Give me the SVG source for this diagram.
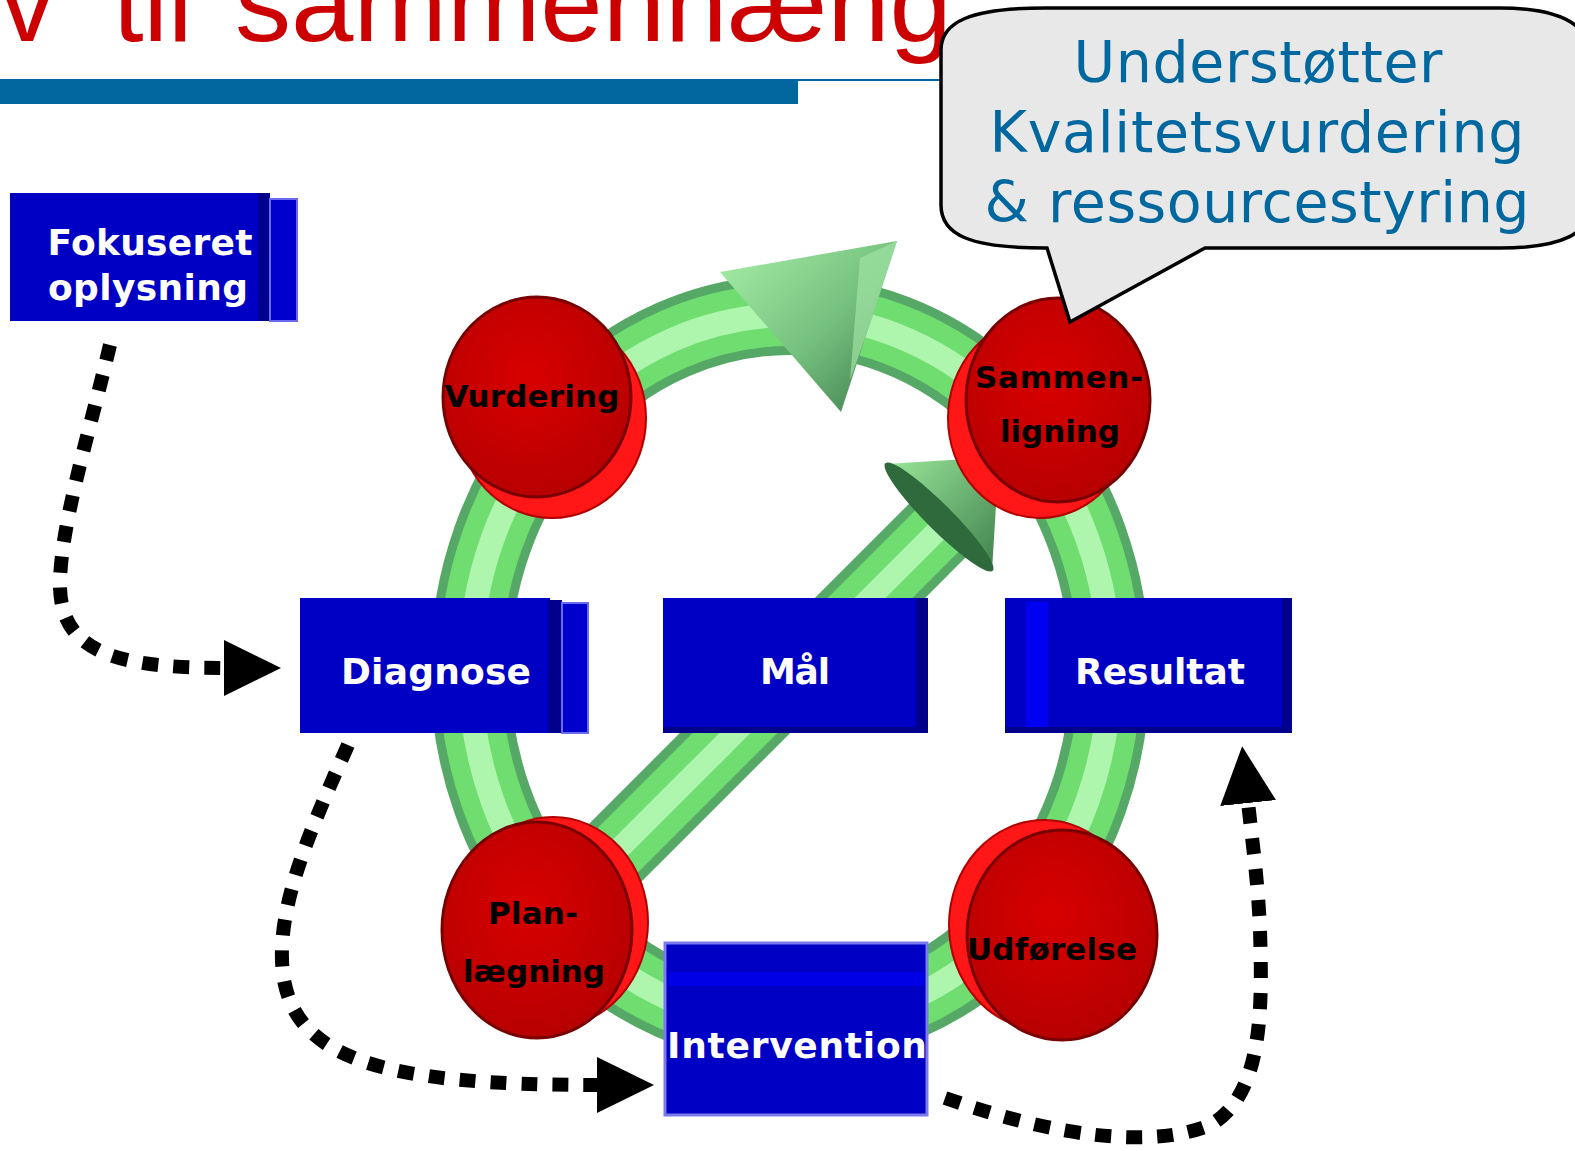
<svg xmlns="http://www.w3.org/2000/svg" width="1575" height="1151" viewBox="0 0 1575 1151">
<style>
.title{font-family:"Liberation Sans",Arial,sans-serif;font-size:110px;fill:#cc0000}
.call{font-family:"DejaVu Sans","Liberation Sans",sans-serif;font-size:57px;fill:#00679f;text-anchor:middle}
.blab{font-family:"DejaVu Sans","Liberation Sans",sans-serif;font-weight:bold;font-size:36px;fill:#ffffff;text-anchor:middle}
.dlab{font-family:"DejaVu Sans","Liberation Sans",sans-serif;font-weight:bold;font-size:31px;fill:#000000;text-anchor:middle}
.face{fill:#0000c4}
.dark{fill:#00008c}
.tab{fill:#0000cc;stroke:#6a6af0;stroke-width:2}
.back{fill:#ff1616;stroke:#b00000;stroke-width:2}
.front{fill:url(#redg);stroke:#780000;stroke-width:3}
.t1{fill:none;stroke:#55a865}
.t2{fill:none;stroke:#70dd70}
.t3{fill:none;stroke:#aef5ae}
.conn{fill:none;stroke:#000000;stroke-width:14;stroke-dasharray:16 15}
</style>
<defs>
<radialGradient id="redg" cx="0.45" cy="0.4" r="0.6">
<stop offset="0" stop-color="#d80000"/>
<stop offset="1" stop-color="#b80000"/>
</radialGradient>
<linearGradient id="cone1" x1="0" y1="0" x2="1" y2="1">
<stop offset="0" stop-color="#a8f0a8"/>
<stop offset="0.55" stop-color="#74c07e"/>
<stop offset="1" stop-color="#3d7a4a"/>
</linearGradient>
<linearGradient id="cone2" x1="0" y1="0" x2="1" y2="1">
<stop offset="0" stop-color="#9be89b"/>
<stop offset="1" stop-color="#3f7f4c"/>
</linearGradient>
<marker id="ah" markerUnits="userSpaceOnUse" markerWidth="60" markerHeight="60" refX="1" refY="28" orient="auto">
<path d="M0,0 L57,28 L0,56 z" fill="#000000"/>
</marker>
</defs>
<rect x="0" y="0" width="1575" height="1151" fill="#ffffff"/>

<g id="title">
<text class="title" y="41"><tspan x="0">v</tspan><tspan x="113">til</tspan><tspan x="235" textLength="717" lengthAdjust="spacingAndGlyphs">sammenhæng</tspan></text>
<rect x="0" y="79" width="945" height="2" fill="#00679f"/>
<rect x="0" y="81" width="798" height="23" fill="#02679e"/>
</g>

<g id="ring">
<ellipse class="t1" cx="790" cy="670" rx="320" ry="355" stroke-width="80"/>
<ellipse class="t2" cx="790" cy="670" rx="320" ry="355" stroke-width="62"/>
<ellipse class="t3" cx="790" cy="670" rx="320" ry="355" stroke-width="24"/>
<line class="t1" x1="598" y1="870" x2="945" y2="523" stroke-width="78"/>
<line class="t2" x1="598" y1="870" x2="945" y2="523" stroke-width="60"/>
<line class="t3" x1="598" y1="870" x2="945" y2="523" stroke-width="22"/>
<polygon points="720,272 897,241 841,412" fill="url(#cone1)"/>
<polygon points="860,258 897,241 868,330 850,380" fill="#9fe3a2" opacity="0.7"/>
<polygon points="886,464 999,457 992,570" fill="url(#cone2)"/>
<ellipse cx="939" cy="517" rx="76" ry="13" transform="rotate(45 939 517)" fill="#2f6a3c"/>
</g>

<g id="vurdering">
<ellipse class="back" cx="552" cy="418" rx="94" ry="100"/>
<ellipse class="front" cx="537" cy="397" rx="94" ry="100"/>
<text class="dlab" x="532" y="407" textLength="175">Vurdering</text>
</g>

<g id="sammenligning">
<ellipse class="back" cx="1040" cy="418" rx="92" ry="100"/>
<ellipse class="front" cx="1058" cy="400" rx="92" ry="102"/>
<text class="dlab" x="1059" y="388" textLength="168">Sammen-</text>
<text class="dlab" x="1060" y="442" textLength="120">ligning</text>
</g>

<g id="planlaegning">
<ellipse class="back" cx="553" cy="922" rx="95" ry="105"/>
<ellipse class="front" cx="537" cy="930" rx="95" ry="108"/>
<text class="dlab" x="533" y="924" textLength="90">Plan-</text>
<text class="dlab" x="534" y="982" textLength="142">lægning</text>
</g>

<g id="udfoerelse">
<ellipse class="back" cx="1044" cy="925" rx="95" ry="105"/>
<ellipse class="front" cx="1062" cy="935" rx="95" ry="105"/>
<text class="dlab" x="1052" y="960" textLength="170">Udførelse</text>
</g>

<g id="fokuseret">
<rect class="face" x="10" y="193" width="250" height="128"/>
<rect class="dark" x="258" y="193" width="12" height="128"/>
<rect class="tab" x="270" y="199" width="27" height="122"/>
<text class="blab" x="150" y="255" textLength="205">Fokuseret</text>
<text class="blab" x="148" y="300" textLength="200">oplysning</text>
</g>

<g id="diagnose">
<rect class="face" x="300" y="598" width="250" height="135"/>
<rect class="dark" x="548" y="600" width="14" height="133"/>
<rect class="tab" x="562" y="603" width="26" height="130"/>
<text class="blab" x="436" y="684" textLength="190">Diagnose</text>
</g>

<g id="maal">
<rect class="face" x="663" y="598" width="265" height="135"/>
<rect class="dark" x="916" y="598" width="12" height="135"/>
<rect class="dark" x="663" y="727" width="265" height="6"/>
<text class="blab" x="795" y="684" textLength="70">Mål</text>
</g>

<g id="resultat">
<rect class="face" x="1005" y="598" width="287" height="135"/>
<rect x="1026" y="602" width="22" height="129" fill="#0000f2"/>
<rect class="dark" x="1282" y="598" width="10" height="135"/>
<rect class="dark" x="1005" y="727" width="287" height="6"/>
<text class="blab" x="1160" y="684" textLength="170">Resultat</text>
</g>

<g id="intervention">
<rect class="face" x="665" y="943" width="262" height="172" stroke="#7a7aee" stroke-width="3"/>
<rect x="668" y="972" width="256" height="14" fill="#0000e6"/>
<text class="blab" x="797" y="1058" textLength="260">Intervention</text>
</g>

<g id="callout">
<path d="M1045 8 L1500 8 C1560 8 1592 25 1592 60 L1592 200 C1592 235 1560 248 1500 248 L1205 248 L1070 322 L1047 248 L1045 248 C970 248 941 235 941 205 L941 50 C941 22 970 8 1045 8 Z" fill="#e8e8e8" stroke="#000000" stroke-width="3.5" stroke-linejoin="miter"/>
<text class="call" x="1258" y="82" textLength="369">Understøtter</text>
<text class="call" x="1257" y="152" textLength="535">Kvalitetsvurdering</text>
<text class="call" x="1257" y="222" textLength="545">&amp; ressourcestyring</text>
</g>

<g id="connectors">
<path class="conn" d="M110 345 C90 430 62 520 60 580 C58 650 110 668 225 668" marker-end="url(#ah)"/>
<path class="conn" d="M348 745 C310 830 280 900 282 960 C285 1060 380 1085 598 1085" marker-end="url(#ah)"/>
<path class="conn" d="M945 1098 C1050 1135 1150 1150 1210 1125 C1265 1095 1262 1000 1260 930 C1258 880 1252 840 1248 802" marker-end="url(#ah)"/>
</g>
</svg>
